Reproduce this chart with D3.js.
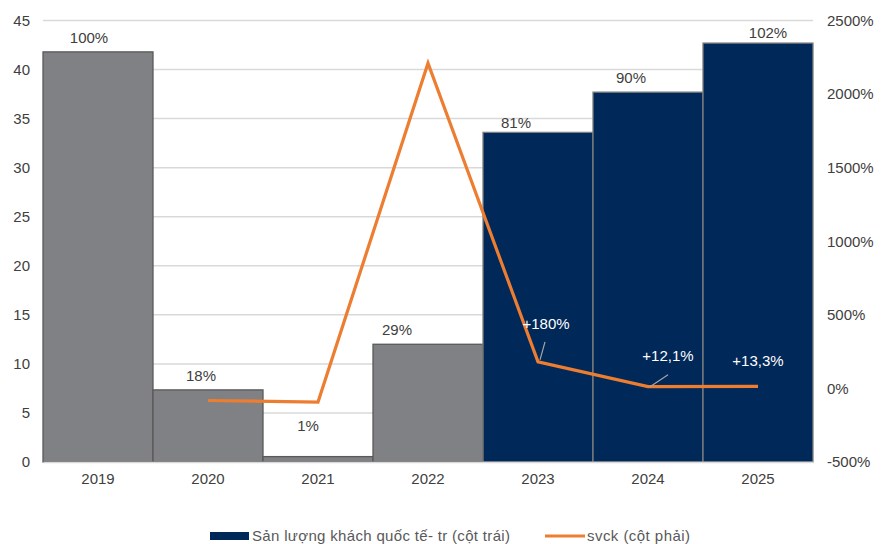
<!DOCTYPE html>
<html>
<head>
<meta charset="utf-8">
<script src="https://cdn.jsdelivr.net/npm/d3@7"></script>
<style>
  html, body { margin: 0; padding: 0; background: #fff; }
  svg { display: block; font-family: "Liberation Sans", Arial, sans-serif; }
</style>
</head>
<body>
<svg id="chart" width="893" height="544"></svg>
<script>
// International arrivals (million) and year-on-year growth
const years = ["2019", "2020", "2021", "2022", "2023", "2024", "2025"];
const arrivals = [41.8, 7.35, 0.55, 12.0, 33.6, 37.7, 42.7];
const recoveryLabels = ["100%", "18%", "1%", "29%", "81%", "90%", "102%"];
const isForecast = [false, false, false, false, true, true, true];
const growthYears = ["2020", "2021", "2022", "2023", "2024", "2025"];
const growth = [-82, -93, 2210, 180, 12.1, 13.3];
const growthLabels = ["", "", "", "+180%", "+12,1%", "+13,3%"];
const leftTicks = [0, 5, 10, 15, 20, 25, 30, 35, 40, 45];
const rightTicks = [-500, 0, 500, 1000, 1500, 2000, 2500];

// Label placement tweaks (dx, dy relative to default anchor)
const barLabelNudge = [[-9, 0], [-7, 0], [-10, -17], [-31, 0], [-22, 5], [-17, 0], [10, 4]];
const lineLabelNudge = [null, null, null, [8, -33], [20, -26], [0, -20]];
const leaderLines = [null, null, null, [[2, -2], [7, -20]], [[2, 0], [20, -12]], null];

const svg = d3.select("#chart");
const m = { left: 43, right: 813, top: 20.5, bottom: 462 };

const x = d3.scaleBand().domain(years).range([m.left, m.right]).padding(0);
const yL = d3.scaleLinear().domain([0, 45]).range([m.bottom, m.top]);
const yR = d3.scaleLinear().domain([-500, 2500]).range([m.bottom, m.top]);

// Gridlines
svg.append("g")
  .selectAll("line")
  .data(leftTicks)
  .join("line")
  .attr("x1", m.left).attr("x2", m.right)
  .attr("y1", d => yL(d)).attr("y2", d => yL(d))
  .attr("stroke", "#d9d9d9").attr("stroke-width", 1.5);

// Left axis
const axL = svg.append("g").attr("transform", `translate(${m.left},0)`)
  .call(d3.axisLeft(yL).tickValues(leftTicks).tickSize(0).tickPadding(13));
axL.select(".domain").remove();
axL.selectAll("text").attr("font-size", 15).attr("fill", "#404040")
  .attr("font-family", "Liberation Sans, Arial, sans-serif");

// Right axis
const axR = svg.append("g").attr("transform", `translate(${m.right},0)`)
  .call(d3.axisRight(yR).tickValues(rightTicks).tickSize(0).tickPadding(14)
    .tickFormat(d => d + "%"));
axR.select(".domain").remove();
axR.selectAll("text").attr("font-size", 15).attr("fill", "#404040")
  .attr("font-family", "Liberation Sans, Arial, sans-serif");

// Bars
svg.append("g")
  .selectAll("rect")
  .data(years)
  .join("rect")
  .attr("x", d => x(d))
  .attr("width", x.bandwidth())
  .attr("y", (d, i) => yL(arrivals[i]))
  .attr("height", (d, i) => yL(0) - yL(arrivals[i]))
  .attr("fill", (d, i) => isForecast[i] ? "#002858" : "#808184")
  .attr("stroke", (d, i) => isForecast[i] ? "#7f7f7f" : "#595959")
  .attr("stroke-width", 1.3);

// Bottom axis
const axB = svg.append("g").attr("transform", `translate(0,${m.bottom})`)
  .call(d3.axisBottom(x).tickSize(0).tickPadding(11));
axB.select(".domain").attr("stroke", "#d9d9d9").attr("stroke-width", 1.5);
axB.selectAll("text").attr("font-size", 15).attr("fill", "#404040")
  .attr("font-family", "Liberation Sans, Arial, sans-serif");

// Recovery labels above bars
svg.append("g")
  .selectAll("text")
  .data(years)
  .join("text")
  .attr("x", (d, i) => x(d) + x.bandwidth() / 2 + barLabelNudge[i][0])
  .attr("y", (d, i) => yL(arrivals[i]) - 9 + barLabelNudge[i][1])
  .attr("text-anchor", "middle")
  .attr("font-size", 15)
  .attr("fill", "#404040")
  .text((d, i) => recoveryLabels[i]);

// Growth line
const cx = d => x(d) + x.bandwidth() / 2;
const line = d3.line()
  .x((d, i) => cx(growthYears[i]))
  .y(d => yR(d));
svg.append("path")
  .datum(growth)
  .attr("d", line)
  .attr("fill", "none")
  .attr("stroke", "#ED7D31")
  .attr("stroke-width", 3.2)
  .attr("stroke-linejoin", "miter");

// Leader lines and growth labels
growthYears.forEach((yr, i) => {
  const px = cx(yr), py = yR(growth[i]);
  if (leaderLines[i]) {
    const [a, b] = leaderLines[i];
    svg.append("line")
      .attr("x1", px + a[0]).attr("y1", py + a[1])
      .attr("x2", px + b[0]).attr("y2", py + b[1])
      .attr("stroke", "#a6a6a6").attr("stroke-width", 1.2);
  }
  if (growthLabels[i]) {
    svg.append("text")
      .attr("x", px + lineLabelNudge[i][0])
      .attr("y", py + lineLabelNudge[i][1])
      .attr("text-anchor", "middle")
      .attr("font-size", 15)
      .attr("fill", "#ffffff")
      .text(growthLabels[i]);
  }
});

// Legend
const lg = svg.append("g").attr("font-size", 15).attr("fill", "#595959");
lg.append("rect").attr("x", 210).attr("y", 532).attr("width", 39).attr("height", 8)
  .attr("fill", "#002858");
lg.append("text").attr("x", 252).attr("y", 541)
  .attr("textLength", 258).attr("lengthAdjust", "spacing")
  .text("Sản lượng khách quốc tế- tr (cột trái)");
lg.append("line").attr("x1", 545).attr("x2", 585).attr("y1", 536).attr("y2", 536)
  .attr("stroke", "#ED7D31").attr("stroke-width", 3);
lg.append("text").attr("x", 587).attr("y", 541)
  .attr("textLength", 103).attr("lengthAdjust", "spacing")
  .text("svck (cột phải)");
</script>
</body>
</html>
